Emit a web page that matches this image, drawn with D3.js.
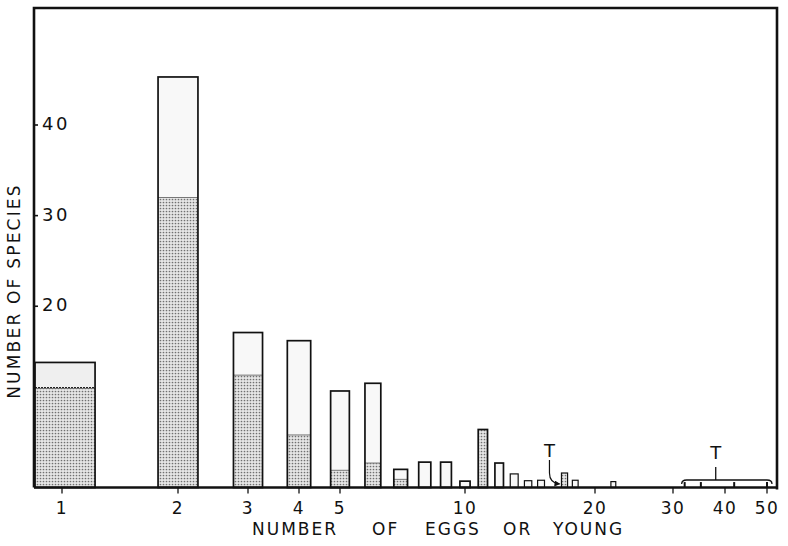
<!DOCTYPE html>
<html><head><meta charset="utf-8">
<script src="https://cdn.jsdelivr.net/npm/d3@7"></script>
<style>body{margin:0;background:#fff}svg{display:block}</style>
</head><body><svg id="c" width="788" height="546"></svg>
<script>
// ---- data ----
const clutchSizes   = [1, 2, 3, 4, 5, 6, 7, 8, 9, 10, 11, 12, 13, 14, 15, 17, 18, 22];
const totalSpecies  = [13.8, 45.3, 17.1, 16.2, 10.65, 11.5, 2.0, 2.8, 2.8, 0.7, 6.4, 2.7, 1.5, 0.75, 0.8, 1.6, 0.8, 0.65];
const shadedSpecies = [11.0, 32.0, 12.4, 5.8, 1.9, 2.7, 0.9, 0, 0, 0, 6.4, 0, 0, 0, 0, 1.6, 0, 0];
const turtleSizes   = [32, 35, 42, 50];
const turtleSpecies = [0.6, 0.6, 0.6, 0.6];
const xTickValues = [1, 2, 3, 4, 5, 10, 20, 30, 40, 50];
const xTickLabels = ["1", "2", "3", "4", "5", "10", "20", "30", "40", "50"];
const yTickValues = [20, 30, 40];
const yTickLabels = ["20", "30", "40"];
const xTitleWords = ["NUMBER", "OF", "EGGS", "OR", "YOUNG"];
const yTitle = "NUMBER OF SPECIES";

// ---- layout ----
const L = 34, R = 777, T = 8, B = 487.5;
const svg = d3.select("#c");
const font = "'DejaVu Sans', sans-serif";

// hand-drawn logarithmic axis (piecewise log scale through the printed ticks)
const x = d3.scaleLog().domain(xTickValues)
  .range([62, 178, 248, 299, 340, 465, 595, 673, 725, 767]);
const y = d3.scaleLinear().domain([0, 40]).range([B, 125]);

const defs = svg.append("defs");
const pat = defs.append("pattern").attr("id", "stip")
  .attr("patternUnits", "userSpaceOnUse").attr("width", 3).attr("height", 3);
pat.append("rect").attr("width", 3).attr("height", 3).attr("fill", "#e6e6e6");
pat.append("circle").attr("cx", 1.5).attr("cy", 1.5).attr("r", 0.85).attr("fill", "#707070");

const bars = clutchSizes.map((n, i) => {
  const w = 0.57 * (x(n + 1) - x(n));
  const x0 = Math.max(x(n) - w / 2, L + 1);
  const x1 = x(n) + w / 2;
  return { n, x0, w: x1 - x0, tot: totalSpecies[i], sh: shadedSpecies[i], i };
});

const g = svg.append("g");
g.selectAll("rect.up").data(bars).join("rect").attr("class", "up")
  .attr("x", d => d.x0).attr("width", d => d.w)
  .attr("y", d => y(d.tot)).attr("height", d => y(d.sh) - y(d.tot))
  .attr("fill", d => d.n === 1 ? "#efefef" : "#f8f8f8");
g.selectAll("rect.low").data(bars.filter(d => d.sh > 0)).join("rect").attr("class", "low")
  .attr("x", d => d.x0).attr("width", d => d.w)
  .attr("y", d => y(d.sh)).attr("height", d => B - y(d.sh))
  .attr("fill", "url(#stip)");
g.selectAll("line.div").data(bars.filter(d => d.sh > 0 && d.sh < d.tot)).join("line").attr("class", "div")
  .attr("x1", d => d.x0).attr("x2", d => d.x0 + d.w)
  .attr("y1", d => y(d.sh)).attr("y2", d => y(d.sh))
  .attr("stroke", d => d.n === 1 ? "#222" : "#777")
  .attr("stroke-width", d => d.n === 1 ? 1.6 : 1)
  .attr("stroke-dasharray", d => d.n === 1 ? "2,1" : null);
g.selectAll("rect.out").data(bars).join("rect").attr("class", "out")
  .attr("x", d => d.x0).attr("width", d => d.w)
  .attr("y", d => y(d.tot)).attr("height", d => B - y(d.tot))
  .attr("fill", "none").attr("stroke", "#111")
  .attr("stroke-width", d => d.w < 8 ? 1.2 : 1.7);

g.selectAll("line.turt").data(turtleSizes).join("line").attr("class", "turt")
  .attr("x1", d => x(d)).attr("x2", d => x(d))
  .attr("y1", B).attr("y2", (d, i) => y(turtleSpecies[i]))
  .attr("stroke", "#111").attr("stroke-width", 2);

// frame
svg.append("path")
  .attr("d", `M${L},${B}V${T}H${R}V${B + 2}`)
  .attr("fill", "none").attr("stroke", "#111").attr("stroke-width", 2.6);
svg.append("line").attr("x1", L).attr("x2", R + 1).attr("y1", B).attr("y2", B)
  .attr("stroke", "#111").attr("stroke-width", 2.4);

// x ticks and labels
svg.selectAll("line.xt").data(xTickValues).join("line").attr("class", "xt")
  .attr("x1", d => x(d)).attr("x2", d => x(d)).attr("y1", B).attr("y2", B + 6)
  .attr("stroke", "#111").attr("stroke-width", 1.3);
svg.selectAll("text.xl").data(xTickValues).join("text").attr("class", "xl")
  .attr("x", d => x(d)).attr("y", 514).attr("text-anchor", "middle")
  .attr("font-family", font).attr("font-size", 17).attr("fill", "#111")
  .attr("letter-spacing", 1.5)
  .text((d, i) => xTickLabels[i]);

// y ticks and labels
svg.selectAll("line.yt").data(yTickValues).join("line").attr("class", "yt")
  .attr("x1", L).attr("x2", L + 4).attr("y1", d => y(d)).attr("y2", d => y(d))
  .attr("stroke", "#111").attr("stroke-width", 1.6);
svg.selectAll("text.yl").data(yTickValues).join("text").attr("class", "yl")
  .attr("x", L + 8).attr("y", d => y(d) + 5)
  .attr("font-family", font).attr("font-size", 18).attr("fill", "#111")
  .attr("letter-spacing", 2.5)
  .text((d, i) => yTickLabels[i]);

// axis titles
svg.append("text").attr("transform", "translate(20,291) rotate(-90)")
  .attr("text-anchor", "middle").attr("font-family", font).attr("font-size", 17)
  .attr("fill", "#111").attr("letter-spacing", 2.2)
  .text(yTitle);
const wordX = [252, 372, 425, 503, 553];
svg.selectAll("text.xtw").data(xTitleWords).join("text").attr("class", "xtw")
  .attr("x", (d, i) => wordX[i]).attr("y", 535)
  .attr("font-family", font).attr("font-size", 17).attr("fill", "#111")
  .attr("letter-spacing", 2)
  .text(d => d);

// "T" annotations
const tBar = bars.find(d => d.n === 17);
const ax = tBar.x0 - 12;
svg.append("text").attr("x", ax).attr("y", 457).attr("text-anchor", "middle")
  .attr("font-family", font).attr("font-size", 18).attr("fill", "#111").text("T");
defs.append("marker").attr("id", "arr").attr("viewBox", "0 0 6 6").attr("refX", 5).attr("refY", 3)
  .attr("markerWidth", 5).attr("markerHeight", 5).attr("orient", "auto")
  .append("path").attr("d", "M0,0L6,3L0,6Z").attr("fill", "#111");
svg.append("path")
  .attr("d", `M${ax},460V473Q${ax},483 ${tBar.x0 - 2},484`)
  .attr("fill", "none").attr("stroke", "#111").attr("stroke-width", 1.2)
  .attr("marker-end", "url(#arr)");

const bl = x(turtleSizes[0]) - 3, br = x(turtleSizes[turtleSizes.length - 1]) + 5, by = 480;
const stemX = x(38);
svg.append("path")
  .attr("d", `M${bl},${by + 4}Q${bl},${by} ${bl + 5},${by}H${br - 5}Q${br},${by} ${br},${by + 4}M${stemX},${by}V${by - 13}`)
  .attr("fill", "none").attr("stroke", "#111").attr("stroke-width", 1.3);
svg.append("text").attr("x", stemX).attr("y", 459).attr("text-anchor", "middle")
  .attr("font-family", font).attr("font-size", 18).attr("fill", "#111").text("T");
</script></body></html>
